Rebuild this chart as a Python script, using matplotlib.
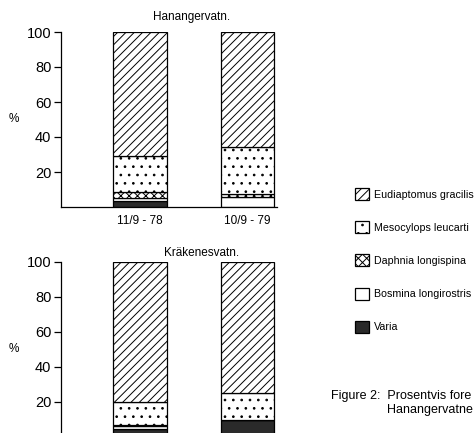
import numpy as np
import matplotlib
matplotlib.use('Agg')
import matplotlib.pyplot as plt

plt.rcParams['font.family'] = ['Liberation Sans', 'DejaVu Sans']
plt.rcParams['hatch.linewidth'] = 0.7

# Data (percent of zooplankton)
dates = ['11/9 - 78', '10/9 - 79']
species = ['Varia', 'Bosmina longirostris', 'Daphnia longispina',
           'Mesocylops leucarti', 'Eudiaptomus gracilis']

hanan_varia = [3.5, 0.0]
hanan_bosmina = [1.8, 5.8]
hanan_daphnia = [3.2, 1.4]
hanan_meso = [20.5, 27.3]
hanan_eudi = [71.0, 65.5]

krak_varia = [4.4, 9.3]
krak_bosmina = [1.6, 0.0]
krak_daphnia = [0.5, 0.0]
krak_meso = [13.3, 15.7]
krak_eudi = [80.2, 75.0]

styles = {
    'Varia': dict(facecolor='#2a2a2a', hatch=None),
    'Bosmina longirostris': dict(facecolor='white', hatch=None),
    'Daphnia longispina': dict(facecolor='white', hatch='xxxx'),
    'Mesocylops leucarti': dict(facecolor='white', hatch='..'),
    'Eudiaptomus gracilis': dict(facecolor='white', hatch='////'),
}

W, H = 474, 433
fig = plt.figure(figsize=(W / 100, H / 100), dpi=100)


def make_axes(top_px, zero_px):
    left, right = 61, 277
    return fig.add_axes([left / W, 1 - zero_px / H, (right - left) / W,
                         (zero_px - top_px) / H])


def draw_panel(ax, layers, title, title_x, title_y, show_dates=True):
    x = np.arange(len(dates))
    bottom = np.zeros(len(dates))
    handles = []
    for name, vals in zip(species, layers):
        st = styles[name]
        b = ax.bar(x, vals, width=0.5, bottom=bottom, facecolor=st['facecolor'],
                   hatch=st['hatch'], edgecolor='black', linewidth=0.9, label=name)
        handles.append(b)
        bottom = bottom + np.array(vals)
    ax.set_xlim(-0.735, 1.274)
    ax.set_ylim(0, 100)
    ax.set_yticks([20, 40, 60, 80, 100])
    ax.set_xticks(x)
    if show_dates:
        ax.set_xticklabels(dates)
    else:
        ax.set_xticklabels([])
    ax.tick_params(axis='x', length=0, pad=6, labelsize=8.5)
    ax.tick_params(axis='y', length=5, width=0.9, pad=2, labelsize=10.5)
    for s in ['top', 'right']:
        ax.spines[s].set_visible(False)
    for s in ['left', 'bottom']:
        ax.spines[s].set_linewidth(0.9)
    ax.text(-0.218, 50, '%', transform=ax.get_yaxis_transform(),
            ha='center', va='center', fontsize=8.5)
    ax.text(title_x, title_y, title, transform=ax.transAxes,
            ha='center', va='center', fontsize=8.5)
    return handles


ax1 = make_axes(32, 207)
handles = draw_panel(ax1, [hanan_varia, hanan_bosmina, hanan_daphnia, hanan_meso, hanan_eudi],
                     'Hanangervatn.', 0.606, 1.086)

ax2 = make_axes(261.7, 436.7)
draw_panel(ax2, [krak_varia, krak_bosmina, krak_daphnia, krak_meso, krak_eudi],
           'Kräkenesvatn.', 0.65, 1.05, show_dates=False)

leg = fig.legend(handles[::-1], species[::-1], loc='upper left',
                 bbox_to_anchor=(355 / W, 1 - 188 / H), frameon=False,
                 fontsize=7.7, handlelength=1.35, handleheight=1.35,
                 handletextpad=0.4, labelspacing=1.98, borderpad=0,
                 borderaxespad=0)

fig.text(331 / W, 1 - 396 / H, 'Figure 2:  Prosentvis fore',
         ha='left', va='center', fontsize=9)
fig.text(387 / W, 1 - 410 / H, 'Hanangervatne',
         ha='left', va='center', fontsize=9)

fig.savefig('out.png', dpi=100)
